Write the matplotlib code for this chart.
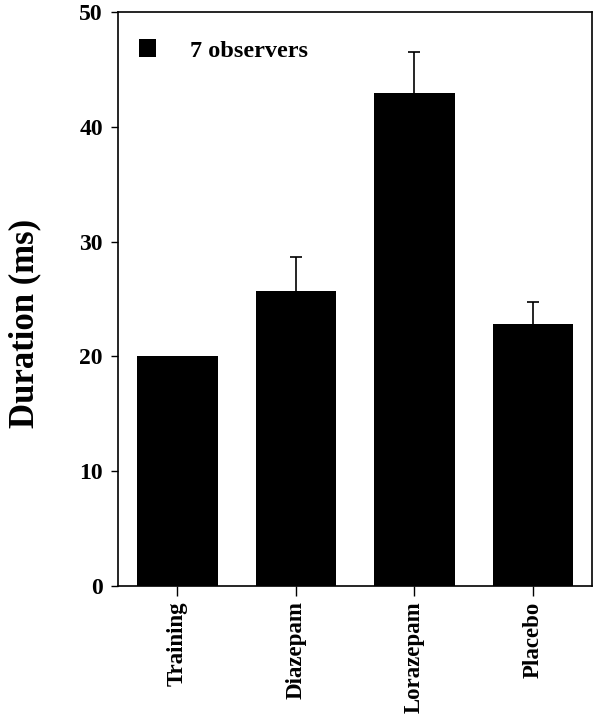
import matplotlib
matplotlib.use("Agg")
import matplotlib.pyplot as plt

conditions = ["Training", "Diazepam", "Lorazepam", "Placebo"]
duration = [20.0, 25.7, 42.9, 22.8]
err_up = [0.0, 3.0, 3.6, 1.9]
yticks = [0, 10, 20, 30, 40, 50]

plt.rcParams['font.family'] = ['Liberation Serif', 'DejaVu Serif']
plt.rcParams['font.weight'] = 'bold'

fig = plt.figure(figsize=(6, 7.17), dpi=100)
ax = fig.add_axes([0.197, 0.1827, 0.79, 0.8006])

x = list(range(len(conditions)))
ax.bar(x, duration, width=0.68, color='black', label='7 observers', zorder=2)

# only upper error bars, skip zero ones
ex = [i for i in x if err_up[i] > 0]
ey = [duration[i] for i in ex]
ee = [err_up[i] for i in ex]
ax.errorbar(ex, ey, yerr=[[0] * len(ee), ee], fmt='none',
            ecolor='black', elinewidth=1.2, capsize=0, zorder=1)
ax.plot(ex, [a + b for a, b in zip(ey, ee)], linestyle='none', marker='_',
        markersize=8, markeredgewidth=1.2, color='black')

ax.set_xlim(-0.5, 3.5)
ax.set_ylim(0, 50)
ax.set_yticks(yticks)
ax.set_xticks(x)
ax.set_xticklabels(conditions, rotation=90, fontsize=16.5, fontweight='bold')
ax.tick_params(axis='y', labelsize=17, length=5, width=1, pad=6)
ax.tick_params(axis='x', length=7, width=1, pad=4)
for s in ax.spines.values():
    s.set_linewidth(1.2)

ax.set_ylabel("Duration (ms)", fontsize=25, fontweight='bold')
ax.yaxis.set_label_coords(-0.163, 0.458)

ax.legend(loc='upper left', frameon=False, prop={'size': 17.5, 'weight': 'bold'},
          handlelength=0.7, handleheight=0.7, handletextpad=1.4,
          bbox_to_anchor=(0.024, 0.969), borderaxespad=0)

fig.savefig("out.png", dpi=100)
